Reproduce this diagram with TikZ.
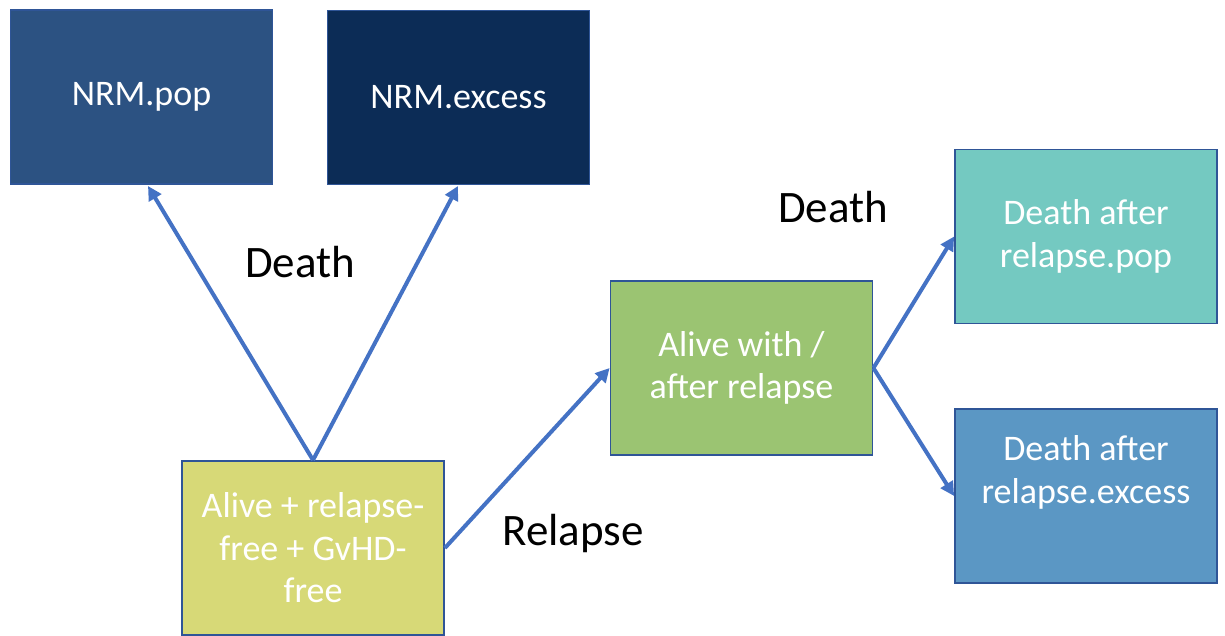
\documentclass[tikz,border=0pt]{standalone}
\usepackage{fontspec}
\setmainfont{Carlito}
\usetikzlibrary{arrows.meta}
\definecolor{boxline}{RGB}{47,85,151}
\definecolor{arrowblue}{RGB}{68,114,196}
\definecolor{nrmpop}{RGB}{44,82,130}
\definecolor{nrmexcess}{RGB}{12,44,86}
\definecolor{alivefree}{RGB}{215,217,119}
\definecolor{alivewith}{RGB}{155,196,114}
\definecolor{darpop}{RGB}{116,201,193}
\definecolor{darexcess}{RGB}{91,151,196}
\tikzset{
  statebox/.style={draw=boxline, line width=1.8pt, rectangle, inner sep=0pt,
    minimum width=262pt, minimum height=174pt, text=white, align=center,
    font=\fontsize{36}{42.5}\selectfont},
  trans/.style={draw=arrowblue, line width=4pt, -{Triangle[length=14pt,width=14pt]}},
  translabel/.style={font=\fontsize{45}{50}\selectfont, text=black}
}
\begin{document}
\begin{tikzpicture}[x=1pt,y=-1pt]
\useasboundingbox (0,0) rectangle (1225,636);
\node[statebox, fill=nrmpop] (nrmpop) at (141.5,97) {NRM.pop};
\node[statebox, fill=nrmexcess] (nrmexcess) at (458.5,97.5) {NRM.excess};
\node[statebox, fill=alivefree] (alivefree) at (313,548) {Alive + relapse-\\free + GvHD-\\free};
\node[statebox, fill=alivewith] (alivewith) at (741.5,368) {Alive with /\\after relapse};
\node[statebox, fill=darpop] (darpop) at (1086,236.5) {Death after\\relapse.pop};
\node[statebox, fill=darexcess] (darexcess) at (1086,496) {Death after\\relapse.excess\\[11pt]};
\coordinate (popend) at (148,186);
\coordinate (excessend) at (458,186);
\draw[trans] (alivefree.north) -- (popend);
\draw[trans] (alivefree.north) -- (excessend);
\draw[trans] (alivefree.east) -- (alivewith.west);
\draw[trans] (alivewith.east) -- (darpop.west);
\draw[trans] (alivewith.east) -- (darexcess.west);
\node[translabel] (death1) at (300,262) {Death};
\node[translabel] (death2) at (833,207) {Death};
\node[translabel] (relapse) at (573,533) {Relapse};
\end{tikzpicture}
\end{document}
